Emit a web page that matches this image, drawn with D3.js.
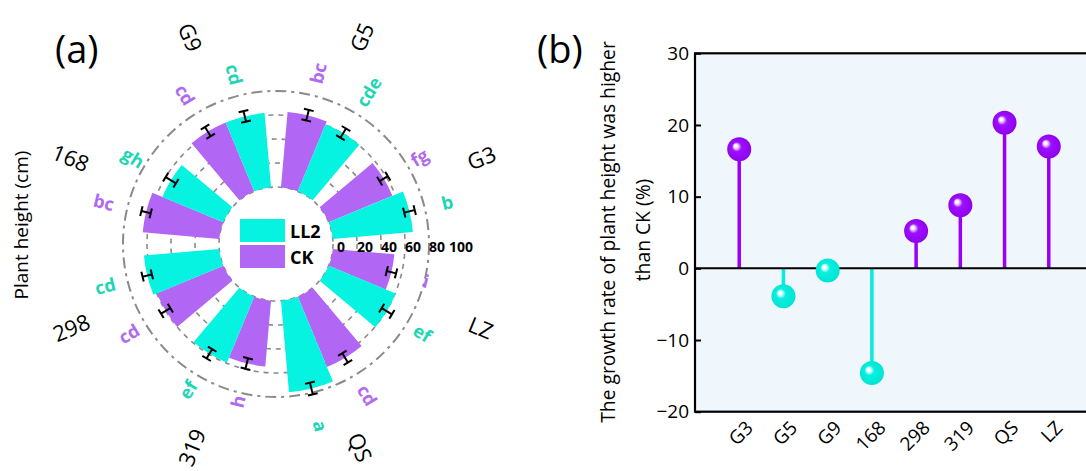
<!DOCTYPE html>
<html>
<head>
<meta charset="utf-8">
<script src="https://cdn.jsdelivr.net/npm/d3@7/dist/d3.min.js"></script>
<style>
  html, body { margin: 0; padding: 0; background: #ffffff; }
  svg { display: block; font-family: "Open Sans", "Noto Sans", sans-serif; }
</style>
</head>
<body>
<svg id="chart" width="1086" height="471"></svg>
<script>
// ---- Panel (a): plant height, circular grouped bars (clockwise from top) ----
const genotypes = ["G5", "G3", "LZ", "QS", "319", "298", "168", "G9"];
const ckHeight   = [63, 57.5, 51.5, 63.5, 55, 60, 64, 62];
const ll2Height  = [60.5, 67, 60.5, 76.5, 59.5, 63, 55, 62];
const ckError    = [4.5, 4, 4, 4.5, 4.5, 4.5, 4, 4.5];
const ll2Error   = [4.5, 4.5, 5, 5, 4.5, 4, 5, 4.5];
const ckLetters  = ["bc", "fg", "i", "cd", "h", "cd", "bc", "cd"];
const ll2Letters = ["cde", "b", "ef", "a", "ef", "cd", "gh", "cd"];
const radialTicks = [0, 20, 40, 60, 80, 100];

// ---- Panel (b): growth rate of LL2 over CK ----
const rateCategories = ["G3", "G5", "G9", "168", "298", "319", "QS", "LZ"];
const rateValues     = [16.6, -3.9, -0.3, -14.6, 5.2, 8.8, 20.3, 17.0];
const rateTicks      = [-20, -10, 0, 10, 20, 30];

const svg = d3.select("#chart");

const C = {
  ll2: "#05f3e0",
  ck: "#b266f4",
  ll2Text: "#1dd6b4",
  ckText: "#b06af0",
  grid: "#8a8a8a",
  lolliPos: "#9a00f7",
  lolliNeg: "#05eedd"
};

// ================= Panel (a) =================
const cx = 276, cy = 244;
const r = d3.scaleLinear().domain([0, 100]).range([57, 177]);

const angle = d3.scaleBand()
  .domain(genotypes)
  .range([0, 2 * Math.PI])
  .paddingInner(2 / 9)
  .paddingOuter(1 / 9);
const sub = d3.scaleBand().domain(["CK", "LL2"]).range([0, angle.bandwidth()]);

const bars = [];
genotypes.forEach((g, i) => {
  bars.push({ g, s: "CK", v: ckHeight[i], e: ckError[i], letter: ckLetters[i] });
  bars.push({ g, s: "LL2", v: ll2Height[i], e: ll2Error[i], letter: ll2Letters[i] });
});
bars.forEach(b => {
  b.a0 = angle(b.g) + sub(b.s);
  b.a1 = b.a0 + sub.bandwidth();
  b.am = (b.a0 + b.a1) / 2;
});

const pa = svg.append("g").attr("transform", `translate(${cx},${cy})`);

// grid rings
const rings = pa.append("g").attr("fill", "none").attr("stroke", C.grid);
[0, 20, 40, 60].forEach(v => {
  rings.append("circle").attr("r", r(v))
    .attr("stroke-width", 1.6).attr("stroke-dasharray", "5,5");
});
rings.append("circle").attr("r", r(80))
  .attr("stroke-width", 2).attr("stroke-dasharray", "11,5,3,5");

// bars
const arc = d3.arc();
pa.append("g").selectAll("path").data(bars).join("path")
  .attr("d", b => arc({ innerRadius: r(0), outerRadius: r(b.v), startAngle: b.a0, endAngle: b.a1 }))
  .attr("fill", b => b.s === "CK" ? C.ck : C.ll2);

// polar helpers (angle 0 at top, clockwise)
const px = (a, rad) => rad * Math.sin(a);
const py = (a, rad) => -rad * Math.cos(a);

// error bars
const eb = pa.append("g").attr("stroke", "#000").attr("stroke-width", 2).attr("fill", "none");
bars.forEach(b => {
  const rl = r(b.v - b.e), rh = r(b.v + b.e);
  const tx = Math.cos(b.am), ty = Math.sin(b.am), cap = 5;
  let d = `M${px(b.am, rl)},${py(b.am, rl)}L${px(b.am, rh)},${py(b.am, rh)}`;
  [rl, rh].forEach(rr => {
    const x = px(b.am, rr), y = py(b.am, rr);
    d += `M${x - tx * cap},${y - ty * cap}L${x + tx * cap},${y + ty * cap}`;
  });
  eb.append("path").attr("d", d);
});

// radial text placement: reads outward on the right half, inward on the left half
function radialText(sel, a, rad, anchorInner, dy = 0) {
  const deg = a * 180 / Math.PI;
  const right = deg < 180;
  const rot = right ? deg - 90 : deg - 270;
  sel.attr("transform", `translate(${px(a, rad)},${py(a, rad) + dy}) rotate(${rot})`)
    .attr("dominant-baseline", "central")
    .attr("text-anchor", anchorInner ? (right ? "start" : "end") : "middle");
}

// significance letters
bars.forEach(b => {
  pa.append("text")
    .text(b.letter)
    .attr("font-size", 18).attr("font-weight", 700)
    .attr("fill", b.s === "CK" ? C.ckText : C.ll2Text)
    .call(radialText, b.am, r(b.v) + 33, true);
});

// genotype labels
genotypes.forEach(g => {
  pa.append("text").text(g)
    .attr("font-size", 22).attr("fill", "#000")
    .call(radialText, angle(g) + angle.bandwidth() / 2, 222, false, -2);
});

// radial axis labels
pa.append("g").selectAll("text").data(radialTicks).join("text")
  .attr("x", v => r(v) + 8).attr("y", 2)
  .attr("text-anchor", "middle").attr("dominant-baseline", "central")
  .attr("font-size", 14).attr("font-weight", 700)
  .text(v => v);

// legend in the hub
const legend = svg.append("g");
[["LL2", C.ll2, 219], ["CK", C.ck, 245]].forEach(([name, col, y]) => {
  legend.append("rect").attr("x", 240).attr("y", y).attr("width", 45).attr("height", 23).attr("fill", col);
  legend.append("text").attr("x", 290).attr("y", y + 12)
    .attr("dominant-baseline", "central").attr("font-size", 18).attr("font-weight", 700)
    .text(name);
});

// panel (a) titles
svg.append("text").attr("x", 55).attr("y", 63).attr("font-size", 38).text("(a)");
svg.append("text")
  .attr("transform", "translate(28,225) rotate(-90)")
  .attr("text-anchor", "middle").attr("font-size", 19)
  .text("Plant height (cm)");

// ================= Panel (b) =================
const x0 = 695, x1 = 1093, yTop = 53.3, yBot = 411.7;
const xs = d3.scalePoint().domain(rateCategories).range([x0, x1]).padding(1);
const ys = d3.scaleLinear().domain([-20, 30]).range([yBot, yTop]);

const pb = svg.append("g");
pb.append("rect").attr("x", x0).attr("y", yTop).attr("width", x1 - x0).attr("height", yBot - yTop)
  .attr("fill", "#eff7fd").attr("stroke", "none");

// y axis with inward ticks
const yAxis = d3.axisLeft(ys).tickValues(rateTicks).tickSizeInner(-6).tickSizeOuter(0)
  .tickPadding(6).tickFormat(d => d < 0 ? "\u2212" + Math.abs(d) : d);
const ya = pb.append("g").attr("transform", `translate(${x0},0)`).call(yAxis);
ya.select(".domain").remove();
ya.selectAll(".tick line").attr("stroke", "#000").attr("stroke-width", 2);
ya.selectAll(".tick text").attr("font-size", 19).attr("font-family", "Open Sans, sans-serif").attr("fill", "#000");

// x labels
pb.append("g").selectAll("text").data(rateCategories).join("text")
  .attr("transform", d => `translate(${xs(d) + 15},${429}) rotate(-45)`)
  .attr("text-anchor", "end").attr("font-size", 19)
  .text(d => d);

// gradients for balls
const defs = svg.append("defs");
function ballGrad(id, light, mid, base) {
  const gr = defs.append("radialGradient").attr("id", id)
    .attr("cx", "50%").attr("cy", "50%").attr("r", "55%").attr("fx", "34%").attr("fy", "34%");
  gr.append("stop").attr("offset", "0%").attr("stop-color", "#ffffff");
  gr.append("stop").attr("offset", "10%").attr("stop-color", "#ffffff");
  gr.append("stop").attr("offset", "22%").attr("stop-color", light);
  gr.append("stop").attr("offset", "36%").attr("stop-color", mid);
  gr.append("stop").attr("offset", "100%").attr("stop-color", base);
}
ballGrad("ballPos", "#d9a6ff", "#9e10ff", "#8c00ea");
ballGrad("ballNeg", "#a8fff6", "#08f0e0", "#00e2d2");

// stems
pb.append("g").selectAll("line").data(rateCategories).join("line")
  .attr("x1", d => xs(d)).attr("x2", d => xs(d))
  .attr("y1", ys(0)).attr("y2", (d, i) => ys(rateValues[i]))
  .attr("stroke", (d, i) => rateValues[i] >= 0 ? C.lolliPos : C.lolliNeg)
  .attr("stroke-width", 3.5);

// zero line
pb.append("line").attr("x1", x0).attr("x2", x1).attr("y1", ys(0)).attr("y2", ys(0))
  .attr("stroke", "#000").attr("stroke-width", 2);

// balls
pb.append("g").selectAll("circle").data(rateCategories).join("circle")
  .attr("cx", d => xs(d)).attr("cy", (d, i) => ys(rateValues[i])).attr("r", 12)
  .attr("fill", (d, i) => rateValues[i] >= 0 ? "url(#ballPos)" : "url(#ballNeg)");

// frame
pb.append("rect").attr("x", x0).attr("y", yTop).attr("width", x1 - x0).attr("height", yBot - yTop)
  .attr("fill", "none").attr("stroke", "#000").attr("stroke-width", 2.2);

// titles
svg.append("text").attr("x", 537).attr("y", 63).attr("font-size", 38).text("(b)");
svg.append("text")
  .attr("transform", "translate(615,232) rotate(-90)")
  .attr("text-anchor", "middle").attr("font-size", 19.3)
  .text("The growth rate of plant height was higher");
svg.append("text")
  .attr("transform", "translate(650,230) rotate(-90)")
  .attr("text-anchor", "middle").attr("font-size", 19.3)
  .text("than CK (%)");
</script>
</body>
</html>
